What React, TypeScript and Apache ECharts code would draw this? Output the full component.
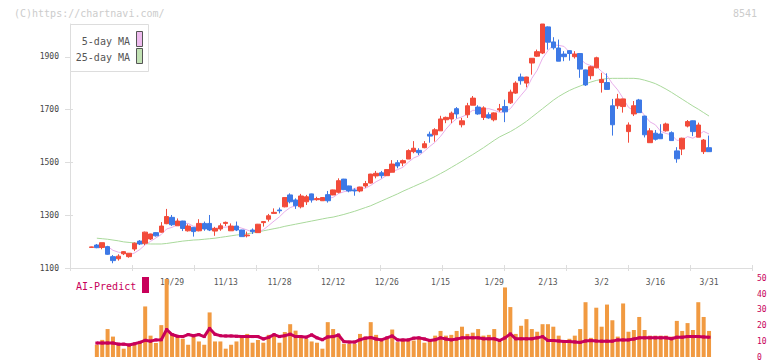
import React, { useEffect, useRef } from "react";
import * as echarts from "echarts";

const dates = ["10/7","10/8","10/9","10/10","10/14","10/15","10/16","10/17","10/20","10/21","10/22","10/23","10/24","10/27","10/28","10/29","10/30","10/31","11/4","11/5","11/6","11/7","11/10","11/11","11/12","11/13","11/14","11/17","11/18","11/19","11/20","11/21","11/25","11/26","11/27","11/28","12/1","12/2","12/3","12/4","12/5","12/8","12/9","12/10","12/11","12/12","12/15","12/16","12/17","12/18","12/19","12/22","12/23","12/24","12/25","12/26","12/29","12/30","1/5","1/6","1/7","1/8","1/9","1/13","1/14","1/15","1/16","1/19","1/20","1/21","1/22","1/23","1/26","1/27","1/28","1/29","1/30","2/2","2/3","2/4","2/5","2/6","2/9","2/10","2/12","2/13","2/16","2/17","2/18","2/19","2/20","2/24","2/25","2/26","2/27","3/2","3/3","3/4","3/5","3/6","3/9","3/10","3/11","3/12","3/13","3/16","3/17","3/18","3/19","3/23","3/24","3/25","3/26","3/27","3/30","3/31"];

const labelDates = ["10/29","11/13","11/28","12/12","12/26","1/15","1/29","2/13","3/2","3/16","3/31"];

const opens = [
  1178,1187,1178,1181,1143,1135,1154,1143,1172,1202,
  1194,1210,1234,1236,1268,1292,1260,1278,1241,1254,
  1241,1269,1269,1240,1248,1269,1241,1259,1244,1222,
  1244,1234,1272,1285,1307,1320,1332,1377,1358,1332,
  1351,1381,1359,1355,1378,1377,1387,1437,1411,1396,
  1392,1411,1422,1449,1461,1450,1463,1499,1498,1513,
  1541,1546,1556,1607,1605,1620,1662,1665,1704,1643,
  1681,1717,1710,1671,1681,1662,1699,1712,1726,1763,
  1824,1801,1877,1903,1915,2014,1957,1934,1911,1924,
  1901,1913,1851,1829,1859,1803,1803,1715,1715,1712,
  1617,1684,1737,1676,1575,1611,1608,1620,1613,1544,
  1551,1638,1658,1596,1541,1556
];
const closes = [
  1180,1177,1196,1152,1128,1145,1162,1156,1194,1191,
  1236,1229,1222,1259,1295,1264,1278,1250,1259,1238,
  1269,1248,1244,1250,1260,1273,1259,1244,1219,1225,
  1238,1266,1276,1298,1311,1317,1367,1351,1336,1373,
  1370,1358,1363,1367,1355,1396,1431,1397,1392,1392,
  1407,1420,1456,1459,1450,1473,1494,1487,1507,1545,
  1554,1537,1571,1600,1624,1665,1671,1687,1684,1658,
  1715,1744,1684,1707,1669,1688,1704,1692,1767,1801,
  1810,1824,1895,1920,2025,1956,1935,1884,1901,1913,
  1911,1854,1794,1863,1897,1815,1777,1643,1741,1741,
  1642,1715,1689,1605,1620,1588,1590,1646,1583,1514,
  1592,1655,1617,1642,1585,1541
];
const lows = [
  1178,1175,1171,1150,1118,1128,1149,1139,1164,1187,
  1187,1206,1219,1234,1266,1259,1260,1240,1238,1219,
  1239,1241,1240,1222,1241,1259,1241,1240,1219,1216,
  1229,1234,1257,1276,1307,1307,1330,1345,1324,1326,
  1339,1348,1355,1355,1348,1376,1383,1395,1387,1374,
  1387,1404,1420,1440,1440,1450,1463,1478,1486,1513,
  1535,1528,1554,1575,1579,1620,1649,1649,1667,1633,
  1669,1717,1681,1661,1666,1656,1692,1653,1722,1760,
  1795,1785,1833,1900,1911,1928,1928,1884,1884,1886,
  1894,1821,1790,1815,1857,1765,1777,1602,1703,1689,
  1575,1676,1689,1595,1575,1583,1590,1617,1583,1499,
  1528,1633,1600,1596,1532,1541
];
const highs = [
  1181,1191,1196,1184,1149,1152,1164,1156,1197,1206,
  1238,1230,1236,1274,1324,1301,1288,1279,1266,1255,
  1285,1276,1301,1256,1269,1276,1269,1276,1245,1238,
  1250,1267,1278,1305,1326,1329,1368,1383,1364,1381,
  1377,1382,1370,1369,1392,1397,1440,1438,1412,1402,
  1408,1430,1457,1468,1468,1474,1509,1509,1511,1550,
  1581,1554,1581,1617,1630,1677,1674,1693,1710,1669,
  1726,1752,1717,1713,1690,1690,1722,1738,1776,1808,
  1837,1825,1896,1928,2025,2016,1975,1966,1922,1926,
  1922,1915,1852,1867,1901,1840,1838,1741,1760,1742,
  1652,1733,1741,1677,1630,1623,1645,1651,1618,1558,
  1594,1661,1659,1651,1589,1602
];
const ma5 = [
  null,null,null,1182,1167,1160,1157,1149,1157,1170,
  1188,1201,1214,1227,1248,1254,1264,1269,1269,1258,
  1259,1253,1252,1250,1254,1255,1257,1257,1251,1244,
  1237,1238,1245,1261,1278,1294,1314,1329,1336,1349,
  1359,1358,1360,1366,1363,1368,1382,1389,1394,1402,
  1404,1402,1413,1427,1438,1452,1466,1473,1482,1501,
  1517,1526,1543,1561,1577,1599,1626,1649,1666,1673,
  1683,1698,1697,1702,1704,1698,1690,1692,1704,1730,
  1755,1779,1819,1850,1895,1924,1946,1944,1940,1918,
  1909,1893,1875,1867,1864,1845,1829,1799,1775,1743,
  1709,1696,1706,1678,1654,1643,1618,1610,1605,1584,
  1585,1598,1592,1604,1618,1608
];
const ma25 = [
  null,1213,1211,1209,1206,1203,1199,1197,1195,1193,
  1192,1191,1191,1191,1193,1196,1199,1202,1204,1206,
  1207,1209,1211,1213,1216,1219,1222,1225,1227,1230,
  1233,1237,1241,1245,1249,1253,1258,1262,1266,1270,
  1274,1278,1282,1286,1290,1293,1298,1303,1309,1315,
  1322,1329,1336,1345,1354,1363,1372,1381,1391,1400,
  1409,1418,1427,1437,1447,1458,1469,1481,1493,1505,
  1518,1530,1543,1556,1570,1584,1597,1607,1617,1629,
  1642,1656,1672,1688,1704,1720,1736,1750,1762,1773,
  1782,1790,1798,1805,1811,1815,1818,1819,1819,1819,
  1819,1819,1817,1812,1806,1799,1789,1778,1766,1753,
  1740,1727,1714,1702,1689,1676
];
const volumes = [
  null,7.8,10.9,17.8,13.0,7.8,5.3,7.4,8.4,9.5,
  32.2,13.6,8.9,20.3,49.7,15.1,13.0,11.6,7.8,13.0,
  9.9,7.8,28.4,9.9,9.9,5.3,7.8,9.9,13.6,14.7,
  9.1,10.9,9.1,14.1,14.1,9.1,15.9,20.9,16.8,13.0,
  11.6,9.9,9.1,5.3,22.2,17.8,14.7,8.4,8.4,8.4,
  14.7,13.0,22.2,14.1,10.5,12.1,17.5,9.5,10.5,10.5,
  10.5,12.2,9.1,10.1,13.6,16.6,13.6,14.1,16.6,19.3,
  14.7,15.5,17.8,13.6,14.1,17.8,9.9,44.3,31.8,14.7,
  19.9,24.1,17.8,16.1,20.9,20.9,19.3,13.6,9.5,11.6,
  13.6,17.8,34.9,12.2,31.4,19.3,33.4,23.4,13.0,34.1,
  16.1,17.2,25.5,17.2,13.6,13.6,13.6,13.6,13.0,23.0,
  16.6,21.6,17.2,34.9,25.5,16.6
];
const aiPredict = [
  null,8.9,8.9,8.9,8.9,8.2,8.2,7.6,8.4,9.3,
  10.6,10.1,10.9,11.0,17.5,14.3,13.2,13.0,14.3,13.5,
  14.3,13.0,18.2,14.5,13.6,13.4,13.4,13.2,13.0,13.0,
  13.0,13.0,11.5,12.5,14.3,13.0,13.6,14.5,13.0,13.0,
  12.6,14.1,12.2,11.0,12.8,13.0,14.0,9.8,9.5,9.5,
  11.0,12.0,12.4,11.5,10.9,12.2,13.4,10.9,10.9,10.9,
  12.0,12.2,11.5,10.5,11.0,12.2,11.5,10.9,11.5,12.2,
  12.2,12.2,12.2,11.6,11.6,11.6,10.5,12.2,14.7,11.6,
  11.6,11.6,11.6,12.2,13.0,10.5,10.5,10.2,9.9,9.9,
  9.6,9.3,10.2,10.5,10.2,10.1,10.1,10.1,10.9,10.9,
  10.9,11.5,12.2,12.2,12.2,12.2,12.2,12.2,11.6,12.6,
  12.6,13.0,13.0,13.0,12.8,12.6
];
const priceTicks = [1100, 1300, 1500, 1700, 1900];
const predictTicks = [0, 10, 20, 30, 40, 50];

const PAD_LEFT = 4;
const PAD_RIGHT = 8;
const FONT = '"DejaVu Sans Mono", "Liberation Mono", monospace';
const RED = "#f24b3a";
const BLUE = "#3d79e6";
const CRIMSON = "#c8005a";
const ORANGE = "#f19a41";
const AXIS = "#dddddd";

export default function App() {
  const ref = useRef<HTMLDivElement>(null);
  useEffect(() => {
    if (!ref.current) return;
    const chart = echarts.init(ref.current, undefined, { renderer: "svg" });
    const categories: string[] = [];
    for (let k = 0; k < PAD_LEFT; k++) categories.push("pl" + k);
    dates.forEach((d) => categories.push(d));
    for (let k = 0; k < PAD_RIGHT; k++) categories.push("pr" + k);
    const labelSet = new Set(labelDates);
    const pos = (i: number) => i + PAD_LEFT;
    const toPairs = (arr: (number | null)[]) =>
      arr.map((v, i) => (v == null ? null : [pos(i), v])).filter((p) => p !== null);

    const candleData = dates.map((_, i) => [pos(i), opens[i], closes[i], lows[i], highs[i]]);
    const plain = (v: number) => String(v);

    const option: any = {
      animation: false,
      backgroundColor: "#ffffff",
      grid: [
        { left: 70, right: 20, top: 24, height: 244 },
        { left: 70, right: 20, top: 278.5, height: 80 },
      ],
      xAxis: [
        {
          type: "category",
          gridIndex: 0,
          data: categories,
          boundaryGap: false,
          axisLine: { show: true, lineStyle: { color: AXIS, width: 1 } },
          axisTick: { show: false },
          splitLine: { show: false },
          axisLabel: {
            interval: (_idx: number, value: string) => labelSet.has(value),
            fontSize: 8,
            fontFamily: FONT,
            color: "#555555",
            margin: 10,
          },
        },
        {
          type: "value",
          gridIndex: 0,
          min: 0,
          max: 11,
          interval: 1,
          position: "bottom",
          axisLine: { show: false },
          axisTick: { show: true, inside: true, length: 3, lineStyle: { color: AXIS } },
          axisLabel: { show: false },
          splitLine: { show: false },
        },
        {
          type: "value",
          gridIndex: 0,
          min: 0,
          max: 11,
          interval: 1,
          position: "bottom",
          axisLine: { show: false },
          axisTick: { show: true, inside: false, length: 3, lineStyle: { color: AXIS } },
          axisLabel: { show: false },
          splitLine: { show: false },
        },
        {
          type: "category",
          gridIndex: 1,
          data: categories,
          boundaryGap: false,
          axisLine: { show: false },
          axisTick: { show: false },
          axisLabel: { show: false },
          splitLine: { show: false },
        },
      ],
      yAxis: [
        {
          type: "value",
          gridIndex: 0,
          min: 1100,
          max: 2025,
          interval: 200,
          position: "left",
          axisLine: { show: true, lineStyle: { color: AXIS } },
          axisTick: { show: true, length: 5, customValues: priceTicks, lineStyle: { color: AXIS } },
          axisLabel: {
            customValues: priceTicks,
            formatter: plain,
            fontSize: 8,
            fontFamily: FONT,
            color: "#444444",
            margin: 11,
          },
          splitLine: { show: false },
        },
        {
          type: "value",
          gridIndex: 0,
          min: 1100,
          max: 2025,
          interval: 200,
          position: "left",
          axisLine: { show: false },
          axisTick: { show: true, inside: true, length: 3, customValues: priceTicks, lineStyle: { color: AXIS } },
          axisLabel: { show: false },
          splitLine: { show: false },
        },
        {
          type: "value",
          gridIndex: 1,
          min: 0,
          max: 50,
          interval: 10,
          position: "right",
          axisLine: { show: false },
          axisTick: { show: false },
          axisLabel: {
            customValues: predictTicks,
            formatter: plain,
            fontSize: 8,
            fontFamily: FONT,
            color: CRIMSON,
            margin: 5,
          },
          splitLine: { show: false },
        },
      ],
      series: [
        {
          name: "25-day MA",
          type: "line",
          xAxisIndex: 0,
          yAxisIndex: 0,
          data: toPairs(ma25),
          showSymbol: false,
          lineStyle: { color: "#a9d99b", width: 1 },
          z: 1,
        },
        {
          name: "5-day MA",
          type: "line",
          xAxisIndex: 0,
          yAxisIndex: 0,
          data: toPairs(ma5),
          showSymbol: false,
          lineStyle: { color: "#e8aeea", width: 1 },
          z: 1,
        },
        {
          name: "price",
          type: "candlestick",
          xAxisIndex: 0,
          yAxisIndex: 0,
          data: candleData,
          encode: { x: 0, y: [1, 2, 3, 4] },
          barWidth: 5,
          itemStyle: {
            color: RED,
            color0: BLUE,
            borderColor: RED,
            borderColor0: BLUE,
            borderWidth: 1,
          },
          z: 3,
        },
        {
          name: "volume",
          type: "bar",
          xAxisIndex: 3,
          yAxisIndex: 2,
          data: toPairs(volumes),
          barWidth: 4,
          itemStyle: { color: ORANGE },
          z: 4,
        },
        {
          name: "AI-Predict",
          type: "line",
          xAxisIndex: 3,
          yAxisIndex: 2,
          data: toPairs(aiPredict),
          showSymbol: true,
          symbol: "rect",
          symbolSize: 3,
          itemStyle: { color: CRIMSON },
          lineStyle: { color: CRIMSON, width: 3 },
          z: 5,
        },
      ],
      graphic: [
        {
          type: "text",
          x: 14,
          y: 13,
          style: { text: "(C)https://chartnavi.com/", fill: "#cccccc", font: "10px " + FONT, textAlign: "left", textVerticalAlign: "middle" },
        },
        {
          type: "text",
          x: 757,
          y: 13,
          style: { text: "8541", fill: "#cccccc", font: "10px " + FONT, textAlign: "right", textVerticalAlign: "middle" },
        },
        {
          type: "rect",
          z: 10,
          shape: { x: 70.5, y: 24.5, width: 78, height: 47 },
          style: { fill: "#ffffff", stroke: "#dddddd", lineWidth: 1 },
        },
        {
          type: "text",
          z: 11,
          x: 130,
          y: 41,
          style: { text: "5-day MA", fill: "#555555", font: "10px " + FONT, textAlign: "right", textVerticalAlign: "middle" },
        },
        {
          type: "text",
          z: 11,
          x: 130,
          y: 57,
          style: { text: "25-day MA", fill: "#555555", font: "10px " + FONT, textAlign: "right", textVerticalAlign: "middle" },
        },
        {
          type: "rect",
          z: 11,
          shape: { x: 136.5, y: 31.5, width: 6, height: 15 },
          style: { fill: "#eebbee", stroke: "#555555", lineWidth: 1 },
        },
        {
          type: "rect",
          z: 11,
          shape: { x: 136.5, y: 48.5, width: 6, height: 15 },
          style: { fill: "#c2e2b4", stroke: "#555555", lineWidth: 1 },
        },
        {
          type: "text",
          z: 11,
          x: 76,
          y: 286,
          style: { text: "AI-Predict", fill: CRIMSON, font: "10px " + FONT, textAlign: "left", textVerticalAlign: "middle" },
        },
        {
          type: "rect",
          z: 11,
          shape: { x: 142, y: 277, width: 7, height: 16 },
          style: { fill: CRIMSON },
        },
      ],
    };
    chart.setOption(option);
    return () => chart.dispose();
  }, []);
  return (
    <div
      ref={ref}
      style={{ position: "absolute", left: 0, top: 0, width: 772, height: 361 }}
    />
  );
}
